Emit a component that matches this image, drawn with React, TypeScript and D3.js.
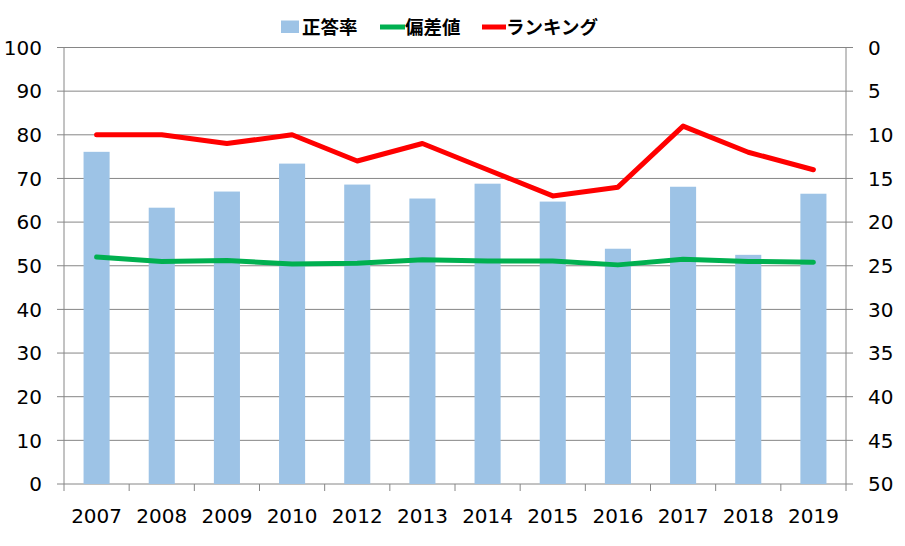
import React from "react";
import * as d3 from "d3";

const years = ["2007", "2008", "2009", "2010", "2012", "2013", "2014", "2015", "2016", "2017", "2018", "2019"];
const correctRate = [76.1, 63.3, 67.0, 73.4, 68.6, 65.4, 68.8, 64.7, 53.9, 68.1, 52.5, 66.5];
const deviation = [52.0, 51.0, 51.2, 50.4, 50.6, 51.4, 51.1, 51.1, 50.2, 51.5, 51.0, 50.8];
const ranking = [10, 10, 11, 10, 13, 11, 14, 17, 16, 9, 12, 14];
const leftTicks = [0, 10, 20, 30, 40, 50, 60, 70, 80, 90, 100];
const rightTicks = [0, 5, 10, 15, 20, 25, 30, 35, 40, 45, 50];

const W = 905, H = 546;
const L = 64, R = 846, T = 47.5, B = 484;

export default function App() {
  const x = d3.scaleBand<string>().domain(years).range([L, R]).paddingInner(0).paddingOuter(0);
  const yL = d3.scaleLinear().domain([0, 100]).range([B, T]);
  const yR = d3.scaleLinear().domain([0, 50]).range([T, B]);
  const bw = x.bandwidth() * 0.4;
  const cx = (d: string) => (x(d) as number) + x.bandwidth() / 2;

  const greenLine = d3.line<number>().x((_, i) => cx(years[i])).y((v) => yL(v));
  const redLine = d3.line<number>().x((_, i) => cx(years[i])).y((v) => yR(v));

  const axisFont = "'DejaVu Sans', Verdana, sans-serif";
  const jpFont = "'Noto Sans CJK JP', sans-serif";
  const gray = "#868686";

  return (
    <svg width={W} height={H} style={{ position: "absolute", left: 0, top: 0, background: "#fff" }}>
      {leftTicks.map((t) => (
        <line key={"g" + t} x1={L - 7} x2={R + 7} y1={yL(t)} y2={yL(t)} stroke={gray} strokeWidth={1} />
      ))}
      <line x1={L} x2={L} y1={T} y2={B} stroke={gray} />
      <line x1={R} x2={R} y1={T} y2={B} stroke={gray} />
      {years.map((d) => (
        <line key={"bt" + d} x1={x(d)} x2={x(d)} y1={B} y2={B + 7} stroke={gray} />
      ))}
      <line x1={R} x2={R} y1={B} y2={B + 7} stroke={gray} />
      {years.map((d, i) => (
        <rect key={"b" + d} x={cx(d) - bw / 2} width={bw} y={yL(correctRate[i])} height={B - yL(correctRate[i])} fill="#9dc3e6" />
      ))}
      <path d={greenLine(deviation) || ""} fill="none" stroke="#00b050" strokeWidth={5} strokeLinejoin="round" strokeLinecap="round" />
      <path d={redLine(ranking) || ""} fill="none" stroke="#ff0000" strokeWidth={5} strokeLinejoin="round" strokeLinecap="round" />
      {leftTicks.map((t) => (
        <text key={"lt" + t} x={42} y={yL(t)} dy="0.36em" textAnchor="end" fontFamily={axisFont} fontSize={20} fill="#000">{t}</text>
      ))}
      {rightTicks.map((t) => (
        <text key={"rt" + t} x={868} y={yR(t)} dy="0.36em" textAnchor="start" fontFamily={axisFont} fontSize={20} fill="#000">{t}</text>
      ))}
      {years.map((d) => (
        <text key={"xl" + d} x={cx(d)} y={523} textAnchor="middle" fontFamily={axisFont} fontSize={20} fill="#000">{d}</text>
      ))}
      <g fontFamily={jpFont} fontSize={18.5} fontWeight="bold" fill="#000">
        <rect x={281} y={20.5} width={18} height={12.5} fill="#9dc3e6" />
        <text x={302} y={27} dy="0.36em">正答率</text>
        <line x1={380} x2={405} y1={27} y2={27} stroke="#00b050" strokeWidth={5} />
        <text x={405} y={27} dy="0.36em">偏差値</text>
        <line x1={482} x2={506} y1={27} y2={27} stroke="#ff0000" strokeWidth={5} />
        <text x={506} y={27} dy="0.36em">ランキング</text>
      </g>
    </svg>
  );
}
